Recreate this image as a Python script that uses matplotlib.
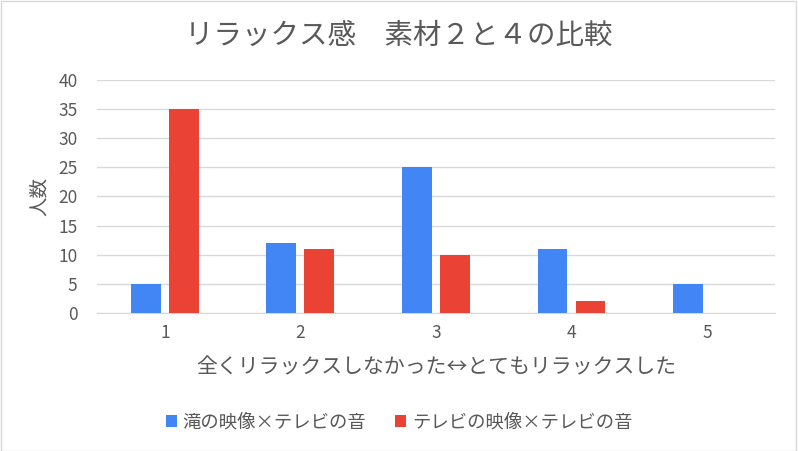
import numpy as np
import matplotlib
matplotlib.use("Agg")
import matplotlib.pyplot as plt
from matplotlib.patches import Rectangle

plt.rcParams['font.family'] = ['Noto Sans CJK JP', 'DejaVu Sans']

# データ
categories = ['1', '2', '3', '4', '5']
series_names = ['滝の映像×テレビの音', 'テレビの映像×テレビの音']
taki_values = [5, 12, 25, 11, 5]
tv_values = [35, 11, 10, 2, 0]
yticks = [0, 5, 10, 15, 20, 25, 30, 35, 40]

title = 'リラックス感\u3000素材２と４の比較'
xlabel = '全くリラックスしなかった↔とてもリラックスした'
ylabel = '人数'

blue = '#4285F4'
red = '#EA4335'
text_col = '#595959'

fig = plt.figure(figsize=(7.98, 4.51), dpi=100)
ax = fig.add_axes([0.1216, 0.306, 0.8494, 0.517])

x = np.arange(len(categories))
w = 0.22
ax.bar(x - 0.14, taki_values, w, color=blue, label=series_names[0], zorder=3)
ax.bar(x + 0.14, tv_values, w, color=red, label=series_names[1], zorder=3)

ax.set_xlim(-0.5, len(categories) - 0.5)
ax.set_ylim(0, 40)
ax.set_yticks(yticks)
ax.set_xticks(x)
ax.set_xticklabels(categories)
ax.grid(axis='y', color='#D9D9D9', linewidth=1, zorder=0)
for s in ax.spines.values():
    s.set_visible(False)
ax.spines['bottom'].set_visible(True)
ax.spines['bottom'].set_color('#D9D9D9')
ax.tick_params(axis='both', length=0, labelsize=12.5, colors=text_col, pad=8)
ax.tick_params(axis='y', pad=14)

ax.set_xlabel(xlabel, fontsize=15, color=text_col, labelpad=10)
ax.set_ylabel(ylabel, fontsize=14, color=text_col, labelpad=6)
fig.text(0.5, 0.92, title, ha='center', va='center', fontsize=20.5, color=text_col)

fig.legend(loc='center', bbox_to_anchor=(0.5, 0.063), ncol=2, frameon=False,
           fontsize=13.2, labelcolor=text_col, handlelength=0.6, handleheight=0.6,
           columnspacing=1.6, handletextpad=0.3)

# 外枠
fig.patches.append(Rectangle((0.001, 0.001), 0.997, 0.996, transform=fig.transFigure,
                             fill=False, edgecolor='#D9D9D9', linewidth=1))

fig.savefig('out.png', dpi=100)
